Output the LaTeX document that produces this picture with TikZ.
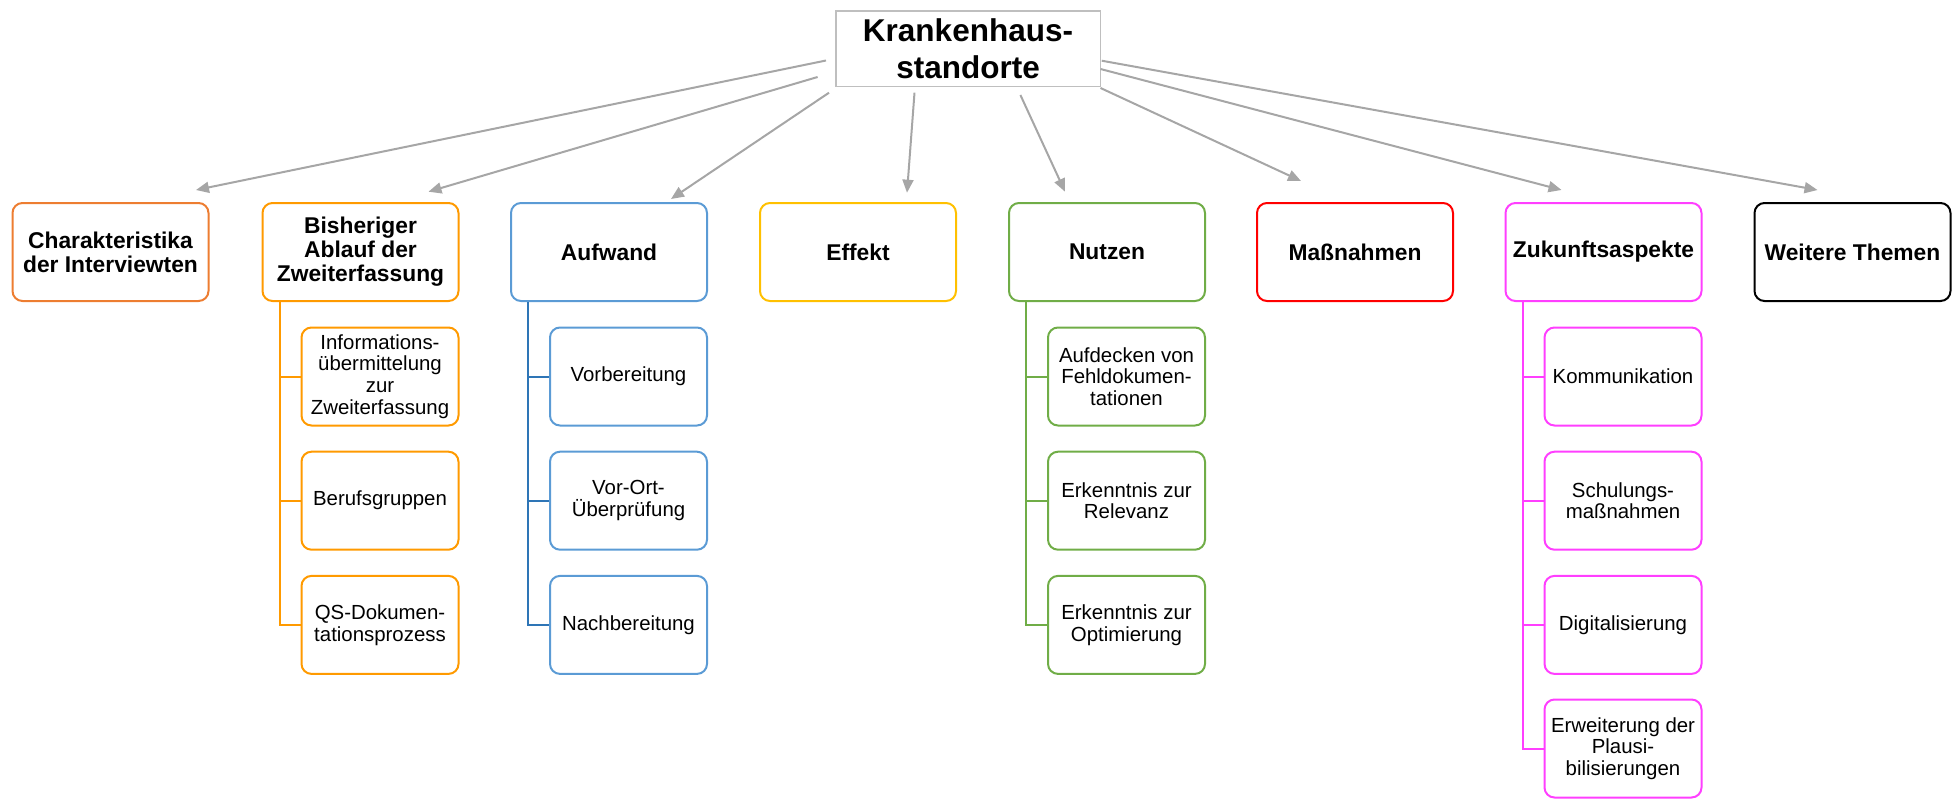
\documentclass[tikz,border=0pt]{standalone}
\usepackage{fontspec}
\setmainfont{Liberation Sans}
\usetikzlibrary{arrows.meta}

\definecolor{rootgray}{HTML}{BFBFBF}
\definecolor{arrgray}{HTML}{A6A6A6}
\definecolor{charcol}{HTML}{ED7D31}
\definecolor{bishcol}{HTML}{FF9A00}
\definecolor{aufwcol}{HTML}{5B9BD5}
\definecolor{aufwline}{HTML}{2E75B6}
\definecolor{effcol}{HTML}{FFC000}
\definecolor{nutzcol}{HTML}{70AD47}
\definecolor{massncol}{HTML}{FF0000}
\definecolor{zukcol}{HTML}{FF3FFF}

\begin{document}
\begin{tikzpicture}[x=1pt,y=-1pt,
    topbox/.style={draw=rootgray,line width=1.5pt,minimum width=264.5pt,minimum height=75.5pt,
      align=center,font=\fontsize{31.5}{37}\selectfont\bfseries},
    catbox/.style={draw=#1,line width=2pt,rounded corners=10pt,minimum width=196pt,minimum height=98pt,
      align=center,font=\fontsize{22.8}{24}\selectfont\bfseries},
    subbox/.style={draw=#1,line width=2pt,rounded corners=10pt,minimum width=157pt,minimum height=98pt,
      align=center,font=\fontsize{20.4}{21.7}\selectfont},
    arr/.style={draw=arrgray,line width=2pt,-{Triangle[length=13pt,width=11pt]}},
    branch/.style={draw=#1,line width=2pt}]
  \useasboundingbox (0,0) rectangle (1954,798);

  % root and categories
  \draw
    (968, 48.5) node[topbox] (KH){Krankenhaus-\\standorte}
    (110.5, 252) node[catbox=charcol] (CH){Charakteristika\\der Interviewten}
    (360.5, 252) node[catbox=bishcol] (BA){Bisheriger\\Ablauf der\\Zweiterfassung}
    (609, 252) node[catbox=aufwcol] (AW){Aufwand}
    (858, 252) node[catbox=effcol] (EF){Effekt}
    (1107, 252) node[catbox=nutzcol] (NU){Nutzen}
    (1355, 252) node[catbox=massncol] (MA){Maßnahmen}
    (1603.5, 252) node[catbox=zukcol] (ZU){Zukunftsaspekte}
    (1852.5, 252) node[catbox=black] (WT){Weitere Themen};

  % sub topics
  \draw
    (380, 376.5) node[subbox=bishcol] (BA1){Informations-\\übermittelung\\zur\\Zweiterfassung}
    (380, 500.7) node[subbox=bishcol] (BA2){Berufsgruppen}
    (380, 624.9) node[subbox=bishcol] (BA3){QS-Dokumen-\\tationsprozess}
    (628.5, 376.5) node[subbox=aufwcol] (AW1){Vorbereitung}
    (628.5, 500.7) node[subbox=aufwcol] (AW2){Vor-Ort-\\Überprüfung}
    (628.5, 624.9) node[subbox=aufwcol] (AW3){Nachbereitung}
    (1126.5, 376.5) node[subbox=nutzcol] (NU1){Aufdecken von\\Fehldokumen-\\tationen}
    (1126.5, 500.7) node[subbox=nutzcol] (NU2){Erkenntnis zur\\Relevanz}
    (1126.5, 624.9) node[subbox=nutzcol] (NU3){Erkenntnis zur\\Optimierung}
    (1623, 376.5) node[subbox=zukcol] (ZU1){Kommunikation}
    (1623, 500.7) node[subbox=zukcol] (ZU2){Schulungs-\\maßnahmen}
    (1623, 624.9) node[subbox=zukcol] (ZU3){Digitalisierung}
    (1623, 748.5) node[subbox=zukcol] (ZU4){Erweiterung der\\Plausi-\\bilisierungen};

  \begin{scope}[arr]
    \draw ([shift={(-9,12)}]KH.west) -- ([shift={(85.5,-12)}]CH.north);
    \draw ([shift={(-17.4,-10)}]KH.south west) -- ([shift={(68,-10.3)}]BA.north);
    \draw ([shift={(-6,5.7)}]KH.south west) -- ([shift={(62,-3)}]AW.north);
    \draw ([shift={(79.5,5.7)}]KH.south west) -- ([shift={(49,-9.3)}]EF.north);
    \draw ([shift={(52.4,8)}]KH.south) -- ([shift={(-42,-10.3)}]NU.north);
    \draw ([shift={(-0.5,1)}]KH.south east) -- ([shift={(-54,-21)}]MA.north);
    \draw ([shift={(-0.5,20.5)}]KH.east) -- ([shift={(-42,-12)}]ZU.north);
    \draw ([shift={(0.7,12.2)}]KH.east) -- ([shift={(-35,-12)}]WT.north);
  \end{scope}

  \begin{scope}[branch=bishcol]
    \draw ([xshift=18pt]BA.south west) |- (BA1);
    \draw ([xshift=18pt]BA.south west) |- (BA2);
    \draw ([xshift=18pt]BA.south west) |- (BA3);
  \end{scope}
  \begin{scope}[branch=aufwline]
    \draw ([xshift=18pt]AW.south west) |- (AW1);
    \draw ([xshift=18pt]AW.south west) |- (AW2);
    \draw ([xshift=18pt]AW.south west) |- (AW3);
  \end{scope}
  \begin{scope}[branch=nutzcol]
    \draw ([xshift=18pt]NU.south west) |- (NU1);
    \draw ([xshift=18pt]NU.south west) |- (NU2);
    \draw ([xshift=18pt]NU.south west) |- (NU3);
  \end{scope}
  \begin{scope}[branch=zukcol]
    \draw ([xshift=18pt]ZU.south west) |- (ZU1);
    \draw ([xshift=18pt]ZU.south west) |- (ZU2);
    \draw ([xshift=18pt]ZU.south west) |- (ZU3);
    \draw ([xshift=18pt]ZU.south west) |- (ZU4);
  \end{scope}
\end{tikzpicture}
\end{document}
